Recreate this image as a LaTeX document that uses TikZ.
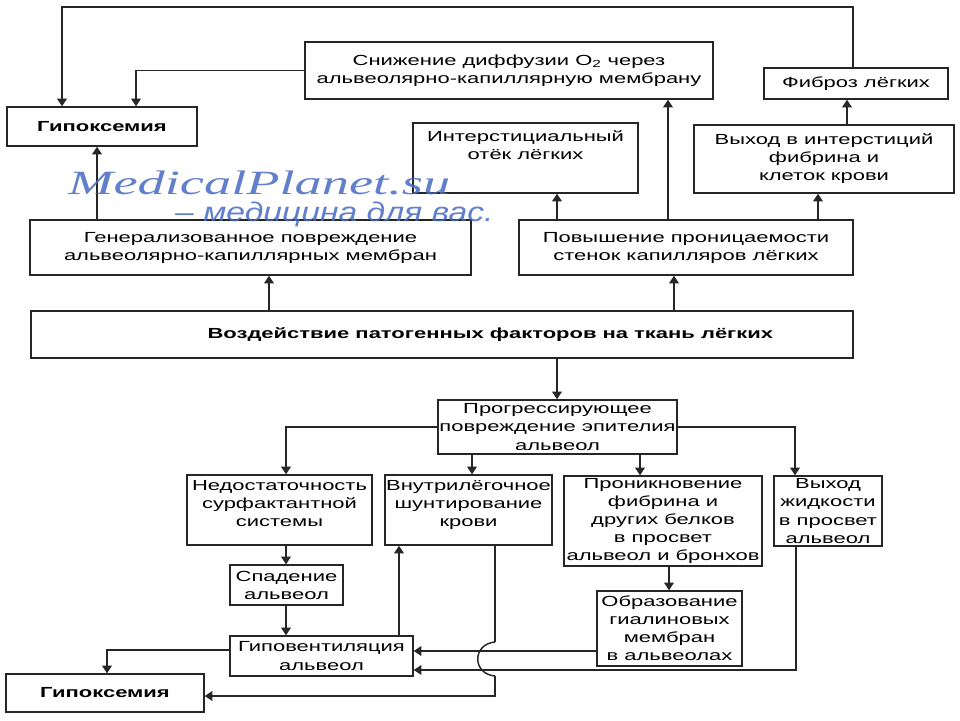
\documentclass[tikz,border=0pt]{standalone}
\usepackage{fontspec}
\setmainfont{Liberation Sans}[FakeStretch=1.5]
\newfontfamily\wmserif{Liberation Serif}
\newfontfamily\wmsans{Liberation Sans}
\usepackage{graphicx}
\usepackage{xcolor}
\usepackage{tikz}
\usetikzlibrary{
        arrows.meta
    }
\definecolor{wmblue}{RGB}{70,105,195}

\begin{document}
\begin{tikzpicture}
[x=0.03cm, y=-0.03cm,
baseshape/.style={text centered, align=center, font=\fontsize{12.5}{15.4}\selectfont, draw=black!85, line width=1.2pt, inner sep=1pt},
block/.style={baseshape, rectangle},
boldblock/.style={block, font=\fontsize{12.5}{15.4}\selectfont\bfseries},
arrow/.style={line width=1.25pt, black!85, -{Triangle[length=2.3mm, width=2.9mm]}},
line/.style={line width=1.25pt, black!85},
wmark/.style={wmblue, opacity=0.85, inner sep=0pt},]
\useasboundingbox (0,0) rectangle (960,720);

\node (hypoxTop) [boldblock, minimum width=5.7cm, minimum height=1.17cm] at (102,126.5) {Гипоксемия};
\node (diffusion) [block, minimum width=12.24cm, minimum height=1.71cm] at (509,70.5) {Снижение диффузии O\textsubscript{2} через\\альвеолярно-капиллярную мембрану};
\node (fibrosis) [block, minimum width=5.52cm, minimum height=0.93cm] at (856,83.5) {Фиброз лёгких};
\node (edema) [block, minimum width=6.75cm, minimum height=2.1cm] at (525.5,158) {Интерстициальный\\отёк лёгких\\[6pt]};
\node (fibrinOut) [block, minimum width=7.8cm, minimum height=2.04cm] at (824,159) {Выход в интерстиций\\фибрина и\\клеток крови};
\node (genDamage) [block, minimum width=13.23cm, minimum height=1.65cm] at (250.5,247.5) {Генерализованное повреждение\\альвеолярно-капиллярных мембран};
\node (permeab) [block, minimum width=10.02cm, minimum height=1.65cm] at (686,247.5) {Повышение проницаемости\\стенок капилляров лёгких};
\node (impact) [boldblock, minimum width=24.66cm, minimum height=1.41cm] at (442,334.5) {\hspace*{2.9cm}Воздействие патогенных факторов на ткань лёгких};

\node (epith) [block, minimum width=7.17cm, minimum height=1.62cm] at (557.5,427) {Прогрессирующее\\повреждение эпителия\\альвеол};
\node (surf) [block, minimum width=5.55cm, minimum height=2.1cm] at (279.5,510) {Недостаточность\\сурфактантной\\системы\\[-4pt]};
\node (shunt) [block, minimum width=5.01cm, minimum height=2.1cm] at (468.5,510) {Внутрилёгочное\\шунтирование\\крови\\[-4pt]};
\node (fibrinIn) [block, minimum width=5.94cm, minimum height=2.7cm] at (663,521) {Проникновение\\фибрина и\\других белков\\в просвет\\альвеол и бронхов};
\node (fluid) [block, minimum width=3.24cm, minimum height=2.1cm] at (828,511) {Выход\\жидкости\\в просвет\\альвеол};
\node (collapse) [block, minimum width=3.39cm, minimum height=1.2cm] at (286.5,585) {Спадение\\альвеол};
\node (hyaline) [block, minimum width=4.35cm, minimum height=2.25cm] at (669.5,628.5) {Образование\\гиалиновых\\мембран\\в альвеолах};
\node (hypovent) [block, minimum width=5.49cm, minimum height=1.2cm] at (321.5,656) {Гиповентиляция\\альвеол};
\node (hypoxBot) [boldblock, minimum width=5.94cm, minimum height=1.14cm] at (105,693) {Гипоксемия};

\coordinate (topLeft) at (62,7);
\coordinate (hopTop) at (495,642);
\coordinate (hopBot) at (495,676);
\coordinate (shuntBot) at (495,696);

\draw[arrow] (fibrosis.north -| 853,0) |- (topLeft) -- (topLeft |- hypoxTop.north);
\draw[arrow] (diffusion.west) -| (hypoxTop.north -| 136,0);
\draw[arrow] (genDamage.north -| 97,0) -- (hypoxTop.south -| 97,0);
\draw[arrow] (impact.north -| 269,0) -- (genDamage.south -| 269,0);
\draw[arrow] (impact.north -| 674,0) -- (permeab.south -| 674,0);
\draw[arrow] (permeab.north -| 557,0) -- (edema.south -| 557,0);
\draw[arrow] (permeab.north -| 668,0) -- (diffusion.south -| 668,0);
\draw[arrow] (permeab.north -| 818,0) -- (fibrinOut.south -| 818,0);
\draw[arrow] (fibrinOut.north -| 847,0) -- (fibrosis.south -| 847,0);

\draw[arrow] (impact.south -| 557,0) -- (epith.north -| 557,0);
\draw[arrow] (epith.west) -| (surf.north -| 286,0);
\draw[arrow] (epith.south -| 472,0) -- (shunt.north -| 472,0);
\draw[arrow] (epith.south -| 640,0) -- (fibrinIn.north -| 640,0);
\draw[arrow] (epith.east) -| (fluid.north -| 795,0);
\draw[arrow] (surf.south -| 286,0) -- (collapse.north -| 286,0);
\draw[arrow] (collapse.south -| 286,0) -- (hypovent.north -| 286,0);
\draw[arrow] (fibrinIn.south -| 669,0) -- (hyaline.north -| 669,0);
\draw[arrow] (hypovent.north -| 399,0) -- (shunt.south -| 399,0);
\draw[arrow] (hypovent.west |- 0,650) -| (hypoxBot.north -| 107,0);
\draw[arrow] (hyaline.west |- 0,651) -- (hypovent.east |- 0,651);
\draw[arrow] (fluid.south -| 796,0) |- (hypovent.east |- 0,670);
\draw[line] (shunt.south -| hopTop) -- (hopTop);
\draw[line] (hopTop) .. controls (472,644) and (472,674) .. (hopBot);
\draw[arrow] (hopBot) -- (shuntBot) -- (hypoxBot.east |- shuntBot);

\node (wmTitle) [wmark, anchor=base west] at (68,194) {\scalebox{1.6}[1]{\wmserif\itshape\fontsize{29}{29}\selectfont MedicalPlanet.su}};
\node (wmSlogan) [wmark, anchor=base west] at (175,221) {\scalebox{1.25}[1]{\wmsans\itshape\fontsize{23}{23}\selectfont – медицина для вас.}};

\end{tikzpicture}
\end{document}
